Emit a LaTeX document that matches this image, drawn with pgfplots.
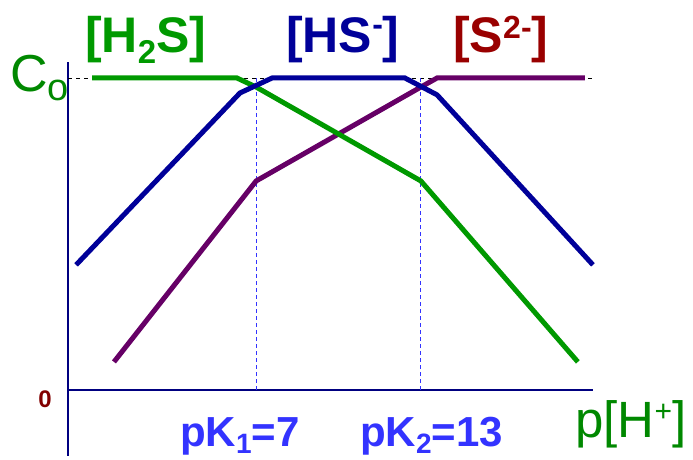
\documentclass[border=0pt]{standalone}
\usepackage{pgfplots}
\pgfplotsset{compat=1.18}
\usepackage{fontspec}
\setmainfont{Liberation Sans}

\definecolor{hsgreen}{RGB}{0,153,0}
\definecolor{labgreen}{RGB}{0,136,0}
\definecolor{hsblue}{RGB}{0,0,153}
\definecolor{spurple}{RGB}{102,0,102}
\definecolor{sred}{RGB}{153,0,0}
\definecolor{pkblue}{RGB}{51,51,255}
\definecolor{axnavy}{RGB}{0,0,128}

% small helpers for chemical sub/superscripts at a fixed size
\newcommand{\sub}[2]{\raisebox{-#2}{\fontsize{33}{33}\selectfont #1}}
\newcommand{\sups}[2]{\raisebox{#2}{\fontsize{32}{32}\selectfont #1}}

\begin{document}
\begin{tikzpicture}
\begin{axis}[
  scale only axis, width=693pt, height=459pt,
  xmin=-2.332, xmax=22.915, ymin=-2.212, ymax=12.5,
  hide axis, clip=false,
]
% axes
\draw[axnavy, line width=1.2pt] (axis cs:0.146,-2.10) -- (axis cs:0.146,10.51);
\draw[axnavy, line width=1.2pt] (axis cs:0.146,0) -- (axis cs:19.27,0);
% reference levels
\draw[black, line width=0.9pt, dash pattern=on 4pt off 4pt] (axis cs:0.146,10) -- (axis cs:19.27,10);
\draw[pkblue, line width=0.9pt, dash pattern=on 4pt off 3pt] (axis cs:7,0) -- (axis cs:7,10);
\draw[pkblue, line width=0.9pt, dash pattern=on 4pt off 3pt] (axis cs:13,0) -- (axis cs:13,10);

% [S2-]
\addplot[spurple, line width=5pt, no marks] coordinates {
  (1.82,0.90) (7,6.70) (13,9.71) (13.59,10) (18.98,10)};
% [H2S]
\addplot[hsgreen, line width=5pt, no marks] coordinates {
  (1.02,10) (6.30,10) (7,9.71) (13,6.70) (18.72,0.90)};
% [HS-]
\addplot[hsblue, line width=5pt, no marks] coordinates {
  (0.44,4.01) (6.41,9.52) (7.58,10) (12.42,10) (13.59,9.46) (19.27,4.01)};

% labels
\node[anchor=base west, text=hsgreen, font=\fontsize{50}{50}\selectfont\bfseries, inner sep=0pt]
  at (rel axis cs:0.1227,0.8867) {[H\sub{2}{11pt}S]};
\node[anchor=base west, text=hsblue, font=\fontsize{50}{50}\selectfont\bfseries, inner sep=0pt]
  at (rel axis cs:0.4127,0.8867) {[HS\sups{-}{17pt}]};
\node[anchor=base west, text=sred, font=\fontsize{50}{50}\selectfont\bfseries, inner sep=0pt]
  at (rel axis cs:0.6537,0.8867) {[S\sups{2-}{14pt}]};
\node[anchor=base west, text=labgreen, font=\fontsize{52}{52}\selectfont, inner sep=0pt]
  at (rel axis cs:0.0144,0.8017) {C\raisebox{-9pt}{\fontsize{38}{38}\selectfont o}};
\node[text=sred!85!black, font=\fontsize{24}{24}\selectfont\bfseries, inner sep=0pt]
  at (rel axis cs:0.0649,0.1307) {0};
\node[anchor=base west, text=pkblue, font=\fontsize{42}{42}\selectfont\bfseries, inner sep=0pt]
  at (rel axis cs:0.2597,0.0262) {pK\raisebox{-7pt}{\fontsize{28}{28}\selectfont 1}=7};
\node[anchor=base west, text=pkblue, font=\fontsize{42}{42}\selectfont\bfseries, inner sep=0pt]
  at (rel axis cs:0.5195,0.0262) {pK\raisebox{-7pt}{\fontsize{28}{28}\selectfont 2}=13};
\node[anchor=base west, text=labgreen, font=\fontsize{51}{51}\selectfont, inner sep=0pt]
  at (rel axis cs:0.8297,0.0479) {p[H\raisebox{16pt}{\fontsize{30}{30}\selectfont +}]};
\end{axis}
\pgfresetboundingbox
\path (current axis.south west) rectangle (current axis.north east);
\end{tikzpicture}
\end{document}
